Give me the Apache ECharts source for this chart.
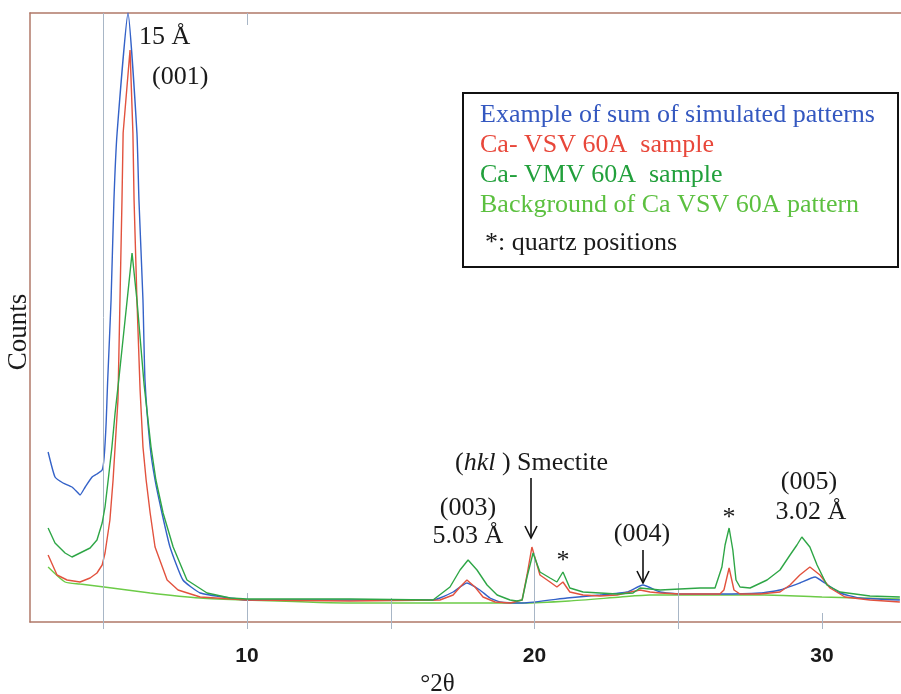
<!DOCTYPE html>
<html>
<head>
<meta charset="utf-8">
<title>XRD patterns</title>
<script src="https://cdn.jsdelivr.net/npm/echarts@6/dist/echarts.min.js"></script>
<style>
  html, body { margin: 0; padding: 0; background: #fff; }
  #chart { width: 901px; height: 694px; }
</style>
</head>
<body>
<div id="chart"></div>
<script>
// [°2θ, counts] (arbitrary count scale, 0 = x axis line)
const sumPattern = [
  [3.08, 170], [3.32, 145], [3.60, 139], [3.91, 135], [4.09, 130], [4.19, 127], [4.37, 135],
  [4.61, 145], [4.78, 148], [4.96, 152], [5.03, 165], [5.10, 200], [5.15, 240], [5.27, 322],
  [5.37, 422], [5.48, 489], [5.86, 609], [6.17, 489], [6.24, 422], [6.38, 322], [6.45, 242],
  [6.63, 175], [6.80, 142], [7.04, 109], [7.32, 75], [7.77, 42], [8.37, 29], [9.41, 24],
  [10.0, 22], [11.84, 22], [13.58, 22], [15.32, 22], [16.47, 22], [16.71, 24], [17.17, 30],
  [17.65, 39], [18.10, 32], [18.45, 24], [18.80, 20], [19.60, 19], [21.13, 24], [22.28, 27],
  [23.22, 30], [23.77, 37], [24.37, 30], [25.06, 28], [26.45, 28], [27.84, 29], [28.54, 32],
  [29.23, 39], [29.76, 45], [30.10, 39], [30.63, 29], [31.32, 24], [32.71, 22]
]

const vsvSample = [
  [3.08, 67], [3.39, 47], [3.74, 42], [4.19, 40], [4.54, 44], [4.78, 49], [4.96, 57], [5.06, 69],
  [5.23, 102], [5.34, 142], [5.41, 175], [5.51, 222], [5.58, 322], [5.65, 422], [5.69, 489],
  [5.93, 572], [6.03, 489], [6.07, 422], [6.17, 322], [6.28, 232], [6.38, 175], [6.49, 142],
  [6.63, 109], [6.80, 75], [7.22, 42], [7.60, 32], [8.37, 25], [10.0, 22], [13.58, 21],
  [16.71, 22], [17.17, 27], [17.41, 35], [17.65, 42], [17.93, 35], [18.21, 25], [18.63, 20],
  [19.15, 19], [19.57, 22], [19.74, 47], [19.91, 75], [20.19, 47], [20.54, 40], [20.78, 35],
  [20.99, 40], [21.23, 30], [21.69, 27], [22.28, 26], [22.87, 27], [23.67, 32], [24.02, 30],
  [24.37, 29], [25.06, 28], [26.45, 28], [26.59, 32], [26.77, 54], [26.94, 32], [27.15, 28],
  [27.84, 28], [28.54, 30], [28.89, 37], [29.23, 47], [29.58, 55], [29.93, 47], [30.28, 34],
  [30.80, 25], [31.67, 22], [32.71, 20]
]

const vmvSample = [
  [3.08, 94], [3.32, 79], [3.67, 69], [3.91, 65], [4.19, 69], [4.54, 74], [4.78, 82], [4.96, 99],
  [5.06, 115], [5.17, 142], [5.30, 175], [5.41, 209], [5.53, 240], [5.83, 322], [6.00, 369],
  [6.17, 322], [6.42, 237], [6.66, 175], [6.83, 142], [7.08, 109], [7.43, 75], [7.91, 42],
  [8.61, 29], [9.41, 24], [10.0, 23], [13.58, 23], [16.47, 22], [17.06, 35], [17.41, 52],
  [17.69, 62], [18.00, 52], [18.35, 37], [18.70, 27], [19.15, 22], [19.39, 21], [19.57, 22],
  [19.74, 45], [19.95, 69], [20.19, 50], [20.54, 44], [20.78, 40], [20.99, 50], [21.23, 34],
  [21.69, 30], [22.28, 29], [22.87, 28], [23.43, 29], [23.67, 34], [24.02, 33], [24.37, 32],
  [25.06, 33], [25.76, 34], [26.28, 34], [26.52, 55], [26.63, 77], [26.77, 94], [26.90, 72],
  [27.01, 42], [27.15, 35], [27.50, 34], [28.09, 42], [28.54, 52], [28.89, 67], [29.13, 77],
  [29.30, 85], [29.58, 75], [29.83, 57], [30.17, 37], [30.63, 30], [31.67, 26], [32.71, 25]
]

const background = [
  [3.08, 55], [3.67, 40], [4.19, 38], [5.03, 35], [6.63, 29], [8.37, 24], [10.0, 22],
  [13.58, 19], [17.06, 19], [19.60, 19], [21.20, 21], [23.00, 25], [24.00, 27], [28.00, 27],
  [30.00, 25], [32.71, 23]
]

const seriesNames = [
  'Example of sum of simulated patterns',
  'Ca- VSV 60A  sample',
  'Ca- VMV 60A  sample',
  'Background of Ca VSV 60A pattern'
]
const seriesColors = ['#3462c8', '#e2523e', '#2ea646', '#6ccb47']
const legendColors = ['#3458c0', '#e8473a', '#22a03c', '#5cc040']

const tickValues = [5, 10, 15, 20, 25, 30]
const labelValues = [10, 20, 30]
// vertical grey guide lines above the axis: [°2θ, top count]
const guideLines = [[5, 609], [10, 29], [15, 24], [20, 69], [25, 39], [30, 9]]

const serif = 'Liberation Serif, Times New Roman, serif'
const axisColor = '#b07868'
const guideColor = '#a8b6c6'

const chart = echarts.init(document.getElementById('chart'))

const lineSeries = (name, data, color, z, smooth) => ({
  name,
  type: 'line',
  data,
  symbol: 'none',
  smooth: smooth || false,
  z,
  lineStyle: { color, width: 1.4 },
  itemStyle: { color },
  emphasis: { disabled: true }
})

const txt = (text, x, y, extra) => ({
  type: 'text',
  x,
  y,
  style: Object.assign({
    text,
    font: '26px ' + serif,
    fill: '#1a1a1a',
    verticalAlign: 'middle'
  }, extra || {})
})

const arrow = (x, y1, y2) => ({
  type: 'group',
  children: [
    { type: 'line', shape: { x1: x, y1: y1, x2: x, y2: y2 }, style: { stroke: '#111', lineWidth: 1.6 } },
    { type: 'polyline', shape: { points: [[x - 6, y2 - 12], [x, y2], [x + 6, y2 - 12]] },
      style: { stroke: '#111', lineWidth: 1.6, fill: null } }
  ]
})

const option = {
  animation: false,
  backgroundColor: '#fff',
  grid: { left: 30, right: 0, top: 13, bottom: 72, containLabel: false, outerBoundsMode: 'none' },
  xAxis: [
    {
      type: 'value',
      min: 2.45,
      max: 32.75,
      name: '°2θ',
      nameLocation: 'middle',
      nameGap: 47,
      nameTextStyle: { fontFamily: serif, fontSize: 25, color: '#1a1a1a', padding: [0, 56, 0, 0] },
      axisLine: { lineStyle: { color: axisColor, width: 1.5 } },
      axisTick: { show: true, customValues: tickValues, length: 7, lineStyle: { color: guideColor, width: 1 } },
      axisLabel: {
        customValues: labelValues,
        margin: 24,
        fontFamily: 'Liberation Sans, Arial, sans-serif',
        fontSize: 21,
        fontWeight: 'bold',
        color: '#1a1a1a'
      },
      splitLine: { show: false }
    },
    {
      type: 'value',
      position: 'top',
      min: 2.45,
      max: 32.75,
      axisLine: { lineStyle: { color: axisColor, width: 1.5 } },
      axisTick: { show: true, inside: true, customValues: [10], length: 12, lineStyle: { color: guideColor } },
      axisLabel: { show: false },
      splitLine: { show: false }
    }
  ],
  yAxis: {
    type: 'value',
    min: 0,
    max: 609,
    axisLine: { show: true, lineStyle: { color: axisColor, width: 1.5 } },
    axisTick: { show: false },
    axisLabel: { show: false },
    splitLine: { show: false }
  },
  legend: {
    orient: 'vertical',
    left: 470,
    top: 97,
    icon: 'rect',
    itemWidth: 0,
    itemHeight: 0,
    itemGap: 4,
    selectedMode: false,
    textStyle: { fontFamily: serif, fontSize: 26, lineHeight: 26 },
    data: seriesNames.map((name, i) => ({ name, textStyle: { color: legendColors[i] } }))
  },
  series: [
    {
      type: 'line',
      data: [],
      silent: true,
      markLine: {
        silent: true,
        symbol: 'none',
        label: { show: false },
        lineStyle: { color: guideColor, width: 1, type: 'solid' },
        data: guideLines.map(g => [{ coord: [g[0], 0] }, { coord: [g[0], g[1]] }])
      }
    },
    lineSeries(seriesNames[3], background, seriesColors[3], 2, 0.2),
    lineSeries(seriesNames[0], sumPattern, seriesColors[0], 3, 0.15),
    lineSeries(seriesNames[1], vsvSample, seriesColors[1], 4),
    lineSeries(seriesNames[2], vmvSample, seriesColors[2], 5)
  ],
  graphic: [
    { type: 'rect', shape: { x: 463, y: 93, width: 435, height: 174 },
      style: { fill: null, stroke: '#111', lineWidth: 2 } },
    txt('*: quartz positions', 485, 243),
    txt('Counts', 19, 332, { align: 'center', font: '27px ' + serif, rotation: 0 }),
    txt('15 Å', 139, 37),
    txt('(001)', 152, 77),
    {
      type: 'text',
      x: 455,
      y: 463,
      style: {
        text: '({i|hkl} ) Smectite',
        font: '26px ' + serif,
        fill: '#1a1a1a',
        verticalAlign: 'middle',
        rich: { i: { fontFamily: serif, fontSize: 26, fontStyle: 'italic', fill: '#1a1a1a' } }
      }
    },
    arrow(531, 478, 538),
    txt('(003)', 468, 508, { align: 'center' }),
    txt('5.03 Å', 468, 536, { align: 'center' }),
    txt('*', 563, 561, { align: 'center' }),
    txt('(004)', 642, 534, { align: 'center' }),
    arrow(643, 550, 583),
    txt('*', 729, 518, { align: 'center' }),
    txt('(005)', 809, 482, { align: 'center' }),
    txt('3.02 Å', 811, 512, { align: 'center' })
  ]
}

// rotate the y title like a vertical axis name
option.graphic[2].rotation = Math.PI / 2

chart.setOption(option)
</script>
</body>
</html>
